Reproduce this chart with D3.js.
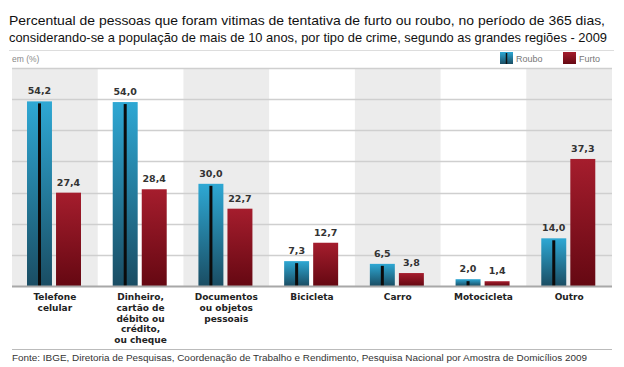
<!DOCTYPE html>
<html><head><meta charset="utf-8">
<script src="https://cdn.jsdelivr.net/npm/d3@7"></script>
<style>body{margin:0;background:#fff}svg{display:block}</style>
</head><body>
<script>
const titleLines = ["Percentual de pessoas que foram vitimas de tentativa de furto ou roubo, no período de 365 dias,",
  "considerando-se a população de mais de 10 anos, por tipo de crime, segundo as grandes regiões - 2009"];
const categories = ["Telefone celular","Dinheiro","Documentos","Bicicleta","Carro","Motocicleta","Outro"];
const categoryLabels = [["Telefone","celular"],["Dinheiro,","cartão de","débito ou","crédito,","ou cheque"],
  ["Documentos","ou objetos","pessoais"],["Bicicleta"],["Carro"],["Motocicleta"],["Outro"]];
const series = ["Roubo","Furto"];
const roubo = [54.2,54.0,30.0,7.3,6.5,2.0,14.0];
const furto = [27.4,28.4,22.7,12.7,3.8,1.4,37.3];
const unitLabel = "em (%)";
const source = "Fonte: IBGE, Diretoria de Pesquisas, Coordenação de Trabalho e Rendimento, Pesquisa Nacional por Amostra de Domicílios 2009";

const W=624,H=367;
const svg=d3.select("body").append("svg").attr("width",W).attr("height",H);
const defs=svg.append("defs");
function grad(id,c1,c2){const g=defs.append("linearGradient").attr("id",id).attr("x1",0).attr("y1",0).attr("x2",0).attr("y2",1);
 g.append("stop").attr("offset","0%").attr("stop-color",c1);g.append("stop").attr("offset","100%").attr("stop-color",c2);}
grad("gRoubo","#2ea8d4","#1a4d63");
grad("gFurto","#a51d2d","#650812");
const colors={Roubo:"url(#gRoubo)",Furto:"url(#gFurto)"};

// title
svg.selectAll("text.title").data(titleLines).join("text").attr("class","title")
 .attr("x",9).attr("y",(d,i)=>25+i*17).attr("font-family","Liberation Sans, Arial, sans-serif")
 .attr("font-size",12.8).attr("fill","#111").attr("textLength",(d,i)=>i?598:596).attr("lengthAdjust","spacingAndGlyphs").text(d=>d);
svg.append("line").attr("x1",9).attr("x2",614).attr("y1",50.5).attr("y2",50.5).attr("stroke","#ddd");
svg.append("text").attr("x",12).attr("y",62).attr("font-family","Liberation Sans, Arial, sans-serif").attr("font-size",8.5).attr("fill","#888").text(unitLabel);

// legend
const leg=svg.append("g");
const legX={Roubo:500,Furto:563};
series.forEach(s=>{
 leg.append("rect").attr("x",legX[s]).attr("y",52).attr("width",13).attr("height",12).attr("fill",colors[s]);
 if(s==="Roubo") leg.append("line").attr("x1",legX[s]+6.5).attr("x2",legX[s]+6.5).attr("y1",53).attr("y2",64).attr("stroke","#111").attr("stroke-width",1.5);
 leg.append("text").attr("x",legX[s]+16).attr("y",62).attr("font-family","Liberation Sans, Arial, sans-serif").attr("font-size",9).attr("fill","#777").text(s);
});

const x=d3.scaleBand().domain(categories).range([12,612]).padding(0);
const xi=d3.scaleBand().domain(series).range([15,69]).paddingInner(0.14);
const y=d3.scaleLinear().domain([0,64]).range([286,68]);

// shaded bands
svg.append("g").selectAll("rect").data(categories.filter((d,i)=>i%2===0)).join("rect")
 .attr("x",d=>x(d)).attr("width",x.bandwidth()).attr("y",y(64)).attr("height",y(0)-y(64)).attr("fill","#ececec");
// gridlines
const grid=d3.range(1,8).map(i=>i*64/7);
svg.append("g").selectAll("line").data(grid).join("line")
 .attr("x1",12).attr("x2",612).attr("y1",d=>Math.round(y(d))+0.5).attr("y2",d=>Math.round(y(d))+0.5).attr("stroke","#cfcfcf").attr("stroke-width",1.5);

const data=categories.map((c,i)=>({c,Roubo:roubo[i],Furto:furto[i]}));
const g=svg.append("g").selectAll("g").data(data).join("g").attr("transform",d=>`translate(${x(d.c)},0)`);
const bars=g.selectAll("g.bar").data(d=>series.map(s=>({s,v:d[s]}))).join("g").attr("class","bar");
bars.append("rect").attr("x",d=>xi(d.s)).attr("width",xi.bandwidth()).attr("y",d=>y(d.v)).attr("height",d=>y(0)-y(d.v)).attr("fill",d=>colors[d.s]);
bars.filter(d=>d.s==="Roubo").append("line").attr("x1",d=>xi(d.s)+xi.bandwidth()/2).attr("x2",d=>xi(d.s)+xi.bandwidth()/2)
 .attr("y1",d=>y(d.v)+2).attr("y2",y(0)).attr("stroke","#0b0b0b").attr("stroke-width",3);
bars.append("text").attr("x",d=>xi(d.s)+xi.bandwidth()/2).attr("y",d=>y(d.v)-7).attr("text-anchor","middle")
 .attr("font-family","DejaVu Sans, Verdana, sans-serif").attr("font-weight","bold").attr("font-size",9.5).attr("fill","#333")
 .text(d=>d3.format(".1f")(d.v).replace(".",","));

// baseline
svg.append("line").attr("x1",12).attr("x2",612).attr("y1",286.5).attr("y2",286.5).attr("stroke","#a8a8a8").attr("stroke-width",2);

// category labels
const xa=svg.append("g").selectAll("text").data(categories).join("text")
 .attr("x",d=>x(d)+x.bandwidth()/2).attr("y",300).attr("text-anchor","middle")
 .attr("font-family","DejaVu Sans, Verdana, sans-serif").attr("font-weight","bold").attr("font-size",9).attr("fill","#222");
xa.each(function(d,i){d3.select(this).selectAll("tspan").data(categoryLabels[i]).join("tspan")
 .attr("x",x(d)+x.bandwidth()/2).attr("dy",(t,j)=>j?10.8:0).text(t=>t);});

// footer
svg.append("line").attr("x1",12).attr("x2",612).attr("y1",349.5).attr("y2",349.5).attr("stroke","#bbb");
svg.append("text").attr("x",12).attr("y",361).attr("font-family","Liberation Sans, Arial, sans-serif").attr("font-size",8.5)
 .attr("fill","#333").attr("textLength",575).attr("lengthAdjust","spacingAndGlyphs").text(source);
</script>
</body></html>
